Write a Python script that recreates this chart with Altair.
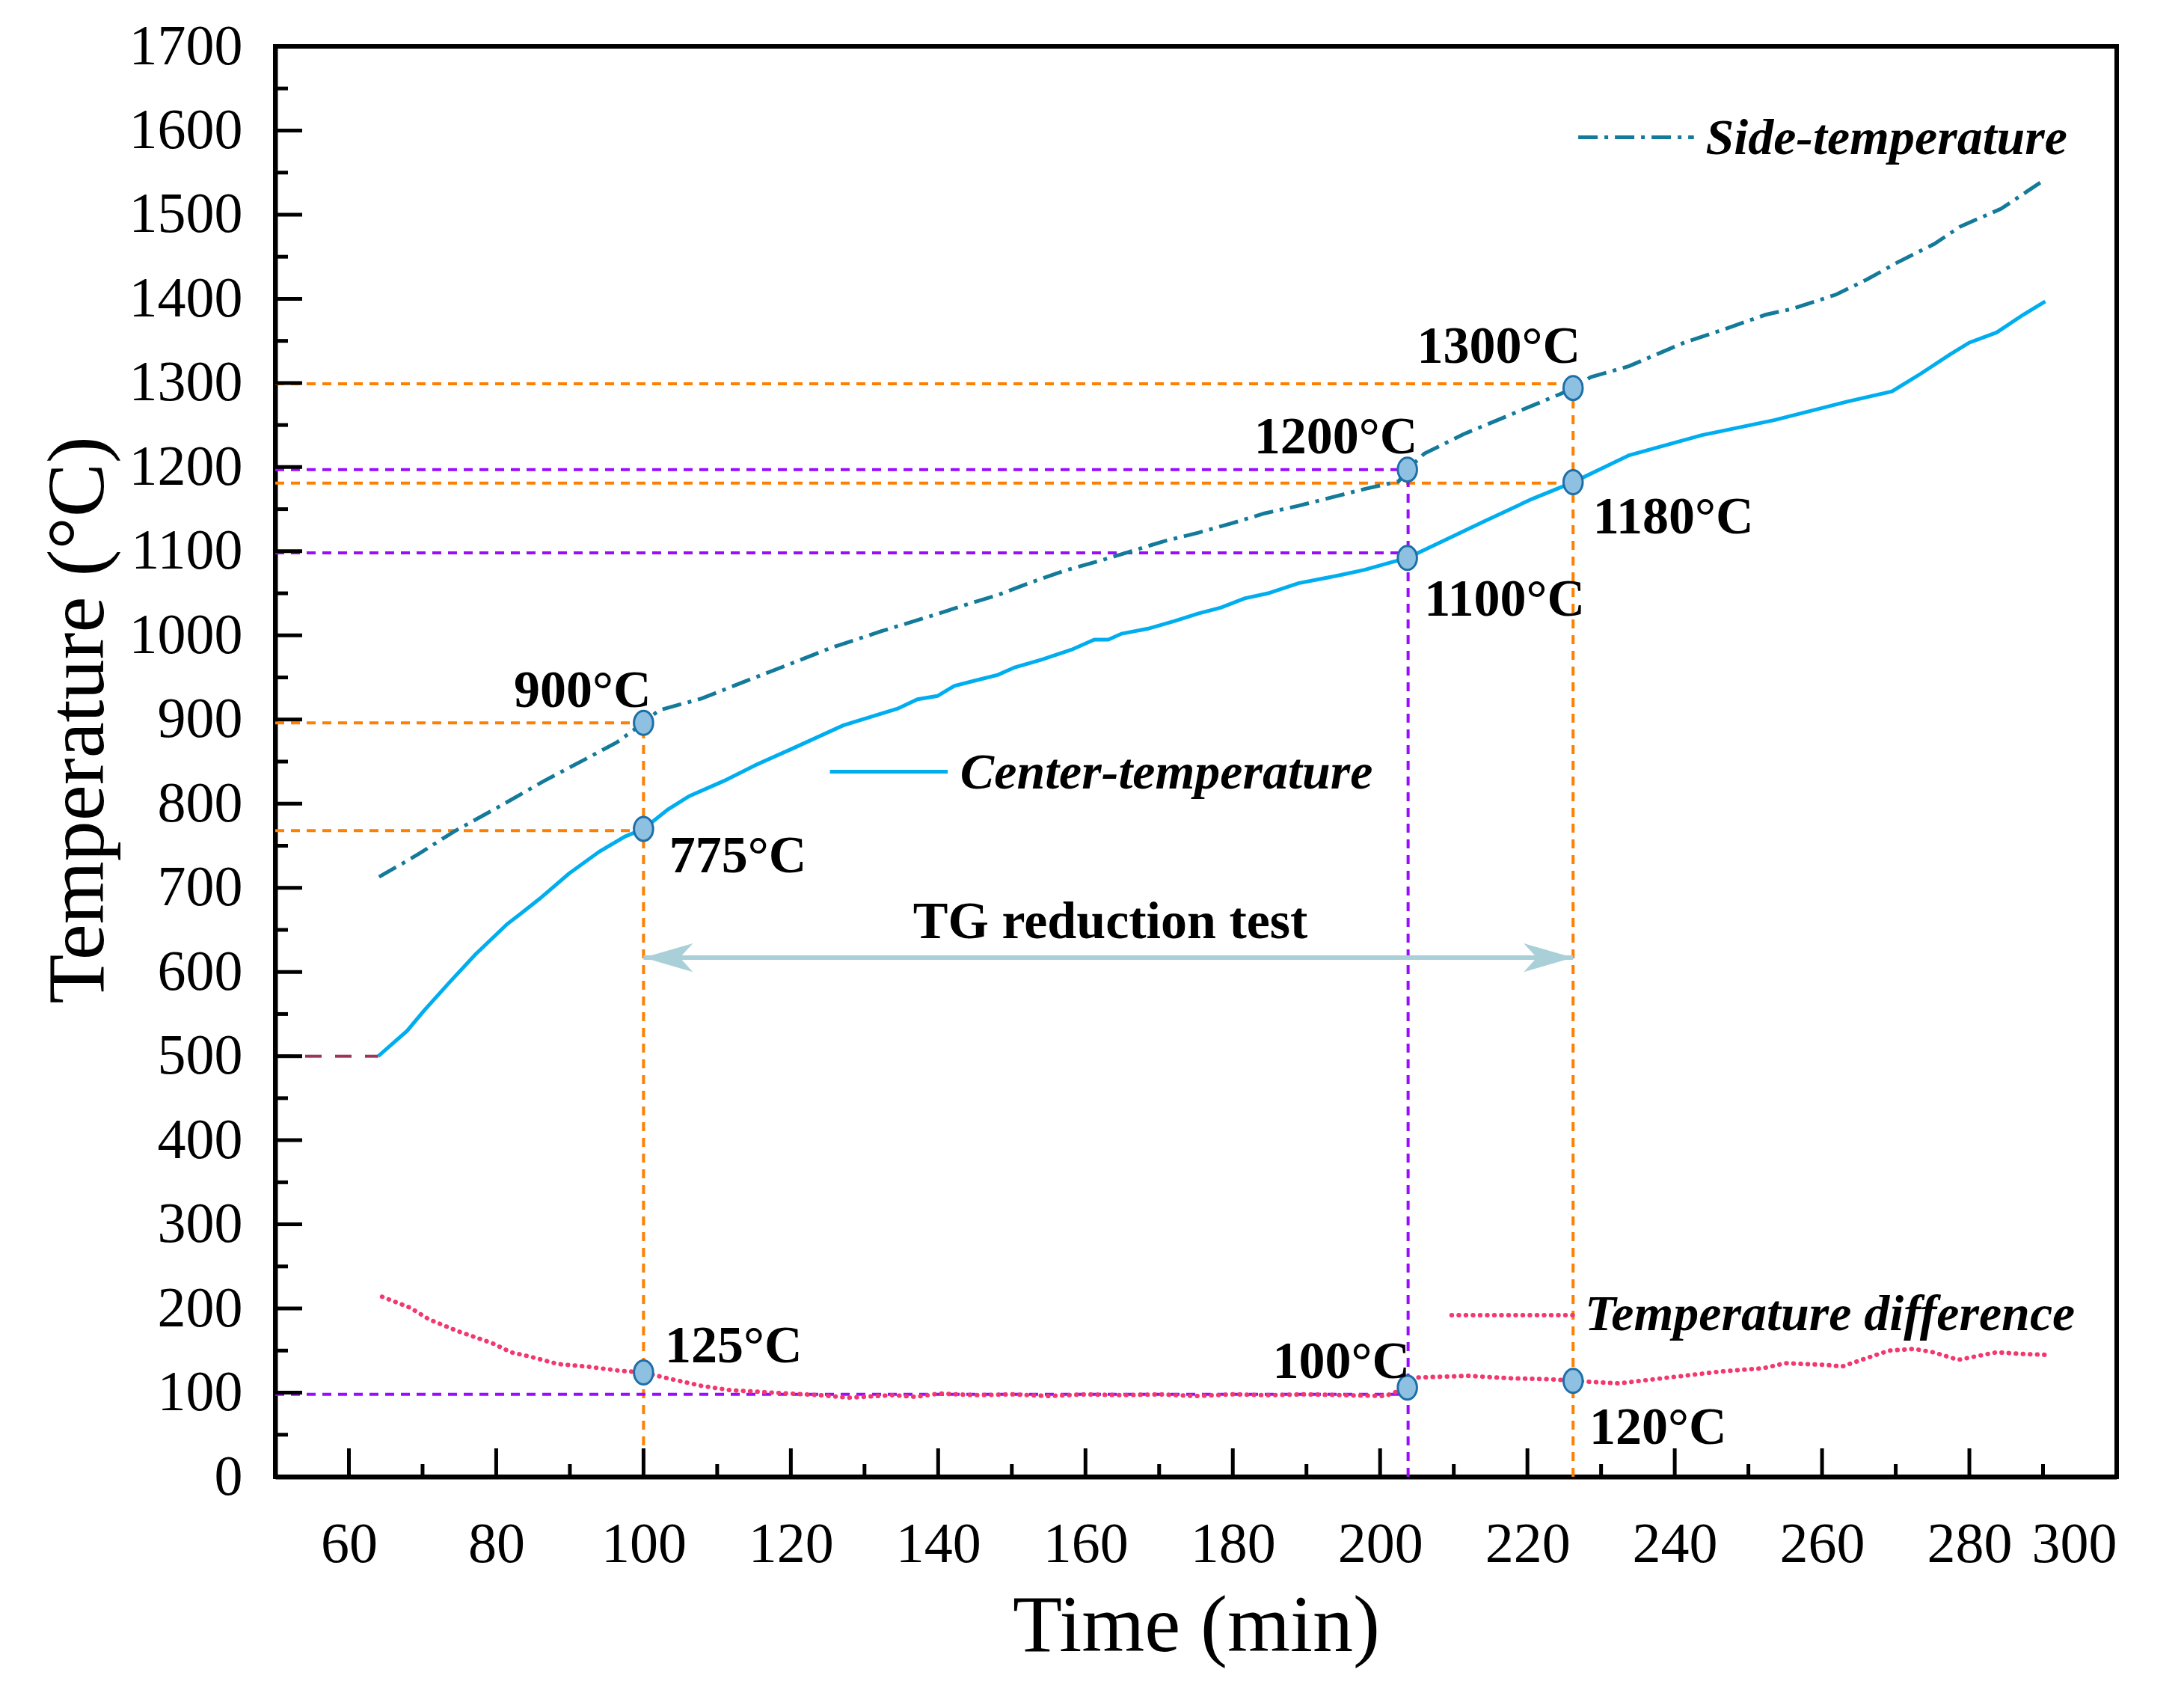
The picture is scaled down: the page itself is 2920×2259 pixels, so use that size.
import altair as alt
import pandas as pd

# Readings taken off the figure (time in min, temperature in °C)
center_time = [64.0, 67.9, 70.2, 73.7, 77.2, 81.5, 83.3, 85.9, 89.9, 94.0, 97.5, 100.0,
               103.3, 106.2, 110.9, 115.5, 120.1, 127.1, 134.5, 137.2, 139.9, 142.2, 144.9,
               148.1, 150.4, 154.0, 158.1, 161.2, 163.1, 164.9, 168.5, 172.1, 175.3, 178.4,
               181.6, 184.8, 188.9, 192.5, 194.8, 197.9, 201.6, 203.7, 207.3, 214.0, 220.6,
               226.2, 233.8, 243.7, 253.6, 263.5, 269.5, 273.4, 277.4, 280.0, 283.7, 287.3, 290.3]
center_temp = [500, 530, 554, 588, 621, 657, 669, 687, 717, 743, 761, 770,
               793, 809, 827, 847, 865, 893, 913, 924, 928, 940, 946,
               953, 962, 971, 983, 995, 995, 1002, 1008, 1017, 1026, 1033,
               1044, 1050, 1062, 1068, 1072, 1078, 1087, 1092, 1107, 1135, 1162,
               1182, 1214, 1238, 1256, 1278, 1290, 1311, 1334, 1348, 1360, 1381, 1397]

side_time = [64.1, 67.3, 69.6, 74.3, 80.1, 86.5, 91.7, 96.4, 100.0, 102.1, 107.9, 113.7,
             119.6, 125.4, 132.3, 139.0, 143.6, 148.1, 152.6, 157.2, 161.7, 166.2, 170.7,
             175.3, 179.8, 184.3, 188.9, 193.4, 197.9, 202.5, 203.7, 206.0, 211.3, 217.9,
             224.5, 226.2, 228.6, 233.8, 241.3, 246.8, 252.3, 255.9, 261.9, 266.1, 270.4,
             275.2, 278.8, 284.3, 287.9, 290.3]
side_temp = [713, 729, 741, 767, 795, 827, 851, 873, 896, 911, 925, 945,
             965, 985, 1005, 1023, 1036, 1048, 1063, 1077, 1088, 1100, 1112,
             1122, 1133, 1145, 1154, 1164, 1174, 1183, 1197, 1216, 1239, 1263,
             1287, 1294, 1307, 1320, 1348, 1364, 1381, 1388, 1405, 1423, 1444,
             1465, 1486, 1507, 1528, 1542]

diff_time = [64.5, 68.3, 70.9, 74.8, 79.4, 82.0, 84.5, 88.4, 92.3, 96.8, 100.0, 103.3,
             107.9, 111.7, 117.6, 124.0, 127.9, 133.8, 137.0, 140.2, 145.0, 150.0, 155.0,
             160.0, 165.0, 170.0, 175.0, 180.0, 185.0, 190.0, 195.0, 200.7, 203.7, 205.0,
             211.9, 217.8, 223.0, 226.2, 232.4, 239.2, 246.1, 252.0, 255.0, 260.6, 262.7,
             265.7, 269.1, 272.5, 275.1, 278.5, 283.7, 287.1, 290.3]
diff_temp = [214, 201, 187, 173, 159, 148, 143, 134, 131, 126, 124, 117,
             108, 103, 100, 97, 94, 97, 95, 99, 97, 98, 96,
             98, 97, 98, 96, 98, 97, 98, 97, 96, 106, 118,
             120, 117, 116, 114, 111, 118, 125, 129, 135, 133, 131,
             140, 150, 152, 148, 139, 148, 146, 145]

# holding segment before the run starts
hold_time = [50, 64.0]
hold_temp = [500, 500]

# marked points
point_time = [100.0, 100.0, 203.7, 203.7, 226.2, 226.2, 100.0, 203.7, 226.2]
point_temp = [896, 770, 1197, 1092, 1294, 1182, 124, 106, 114]

# guide lines: start/end time and temperature
orange_t1 = [50, 50, 50, 50, 100.0, 226.2]
orange_t2 = [226.2, 226.2, 100.0, 100.0, 100.0, 226.2]
orange_y1 = [1299, 1181, 896, 768, 0, 0]
orange_y2 = [1299, 1181, 896, 768, 896, 1299]
purple_t1 = [50, 50, 50, 203.8]
purple_t2 = [203.8, 203.8, 203.8, 203.8]
purple_y1 = [1197, 1098, 98, 0]
purple_y2 = [1197, 1098, 98, 1197]

# TG reduction test span
arrow_start, arrow_end, arrow_temp = 100.0, 226.2, 617

# value labels
label_text = ["900°C", "775°C", "1200°C", "1300°C", "1180°C", "1100°C",
              "125°C", "100°C", "120°C", "TG reduction test"]
label_time = [82.4, 103.5, 182.9, 205.0, 228.9, 206.0, 102.9, 185.4, 228.4, 136.6]
label_temp = [915, 718, 1216, 1324, 1121, 1023, 136, 117, 39, 640]

# series names placed inside the plot, with their line samples
key_text = ["Side-temperature", "Center-temperature", "Temperature difference"]
key_time = [244.2, 143.0, 227.8]
key_temp = [1572, 818, 174]
key_line_t1 = [226.9, 125.3, 209.7]
key_line_t2 = [242.6, 141.3, 226.5]
key_line_y = [1592, 838, 192]

x_major = list(range(60, 301, 20))
x_minor = list(range(70, 300, 20))
y_major = list(range(0, 1701, 100))
y_minor = list(range(50, 1700, 100))

W, H = 2462, 1912
FONT = "Liberation Serif"
C_CENTER = "#00AEEF"
C_SIDE = "#137A9A"
C_DIFF = "#F2386F"
C_ORANGE = "#FF8000"
C_PURPLE = "#9A0BFF"

xscale = alt.Scale(domain=[50, 300], nice=False, zero=False)
yscale = alt.Scale(domain=[0, 1700], nice=False, zero=False)
xaxis = alt.Axis(values=x_major, format="d", title="Time (min)", labelPadding=53,
                 titleY=232, titleBaseline="alphabetic")
yaxis = alt.Axis(values=y_major, format="d", title="Temperature (°C)", labelPadding=44,
                 titleX=-231, titleY=900, titleAngle=270, titleBaseline="alphabetic",
                 titleAlign="center")


def X(field):
    return alt.X(field, type="quantitative", scale=xscale, axis=xaxis)


def Y(field):
    return alt.Y(field, type="quantitative", scale=yscale, axis=yaxis)


center = pd.DataFrame({"t": center_time, "temp": center_temp})
side = pd.DataFrame({"t": side_time, "temp": side_temp})
diff = pd.DataFrame({"t": diff_time, "temp": diff_temp})
hold = pd.DataFrame({"t": hold_time, "temp": hold_temp})
points = pd.DataFrame({"t": point_time, "temp": point_temp})
orange = pd.DataFrame({"t": orange_t1, "t2": orange_t2, "temp": orange_y1, "temp2": orange_y2})
purple = pd.DataFrame({"t": purple_t1, "t2": purple_t2, "temp": purple_y1, "temp2": purple_y2})
labels = pd.DataFrame({"t": label_time, "temp": label_temp, "text": label_text})
keys = pd.DataFrame({"t": key_time, "temp": key_temp, "text": key_text})
key_lines = pd.DataFrame({"t": key_line_t1, "t2": key_line_t2, "temp": key_line_y})
arrow = pd.DataFrame({"t": [arrow_start], "t2": [arrow_end], "temp": [arrow_temp]})
arrow_heads_l = pd.DataFrame({"t": [arrow_start], "temp": [arrow_temp]})
arrow_heads_r = pd.DataFrame({"t": [arrow_end], "temp": [arrow_temp]})

# inward ticks
tick_x_major = alt.Chart(pd.DataFrame({"t": x_major})).mark_rule(
    color="black", strokeWidth=5).encode(x=X("t"), y=alt.value(H), y2=alt.value(H - 38))
tick_x_minor = alt.Chart(pd.DataFrame({"t": x_minor})).mark_rule(
    color="black", strokeWidth=5).encode(x=X("t"), y=alt.value(H), y2=alt.value(H - 17))
tick_y_major = alt.Chart(pd.DataFrame({"temp": y_major})).mark_rule(
    color="black", strokeWidth=5).encode(y=Y("temp"), x=alt.value(0), x2=alt.value(36))
tick_y_minor = alt.Chart(pd.DataFrame({"temp": y_minor})).mark_rule(
    color="black", strokeWidth=5).encode(y=Y("temp"), x=alt.value(0), x2=alt.value(17))

guide_orange = alt.Chart(orange).mark_rule(
    color=C_ORANGE, strokeWidth=4, strokeDash=[12, 9]).encode(
    x=X("t"), x2="t2", y=Y("temp"), y2="temp2")
guide_purple = alt.Chart(purple).mark_rule(
    color=C_PURPLE, strokeWidth=4, strokeDash=[12, 9]).encode(
    x=X("t"), x2="t2", y=Y("temp"), y2="temp2")

hold_line = alt.Chart(hold).mark_line(
    color="#9E3459", strokeWidth=4, strokeDash=[22, 18]).encode(x=X("t"), y=Y("temp"))

center_line = alt.Chart(center).mark_line(
    color=C_CENTER, strokeWidth=5).encode(x=X("t"), y=Y("temp"))
side_line = alt.Chart(side).mark_line(
    color=C_SIDE, strokeWidth=5, strokeDash=[26, 9, 5, 9]).encode(x=X("t"), y=Y("temp"))
diff_line = alt.Chart(diff).mark_line(
    color=C_DIFF, strokeWidth=6, strokeDash=[0.5, 9], strokeCap="round").encode(
    x=X("t"), y=Y("temp"))

# line samples next to the series names
key_side = alt.Chart(key_lines.iloc[[0]]).mark_rule(
    color=C_SIDE, strokeWidth=5, strokeDash=[26, 9, 5, 9]).encode(x=X("t"), x2="t2", y=Y("temp"))
key_center = alt.Chart(key_lines.iloc[[1]]).mark_rule(
    color=C_CENTER, strokeWidth=5).encode(x=X("t"), x2="t2", y=Y("temp"))
key_diff = alt.Chart(key_lines.iloc[[2]]).mark_rule(
    color=C_DIFF, strokeWidth=6, strokeDash=[0.5, 9], strokeCap="round").encode(
    x=X("t"), x2="t2", y=Y("temp"))

arrow_line = alt.Chart(arrow).mark_rule(color="#A9D0D8", strokeWidth=6).encode(
    x=X("t"), x2="t2", y=Y("temp"))
head_l = alt.Chart(arrow_heads_l).mark_point(
    shape="M0,0L1.9,-0.55L1.4,0L1.9,0.55Z", size=4817, filled=True,
    color="#A9D0D8", opacity=1).encode(x=X("t"), y=Y("temp"))
head_r = alt.Chart(arrow_heads_r).mark_point(
    shape="M0,0L-1.9,-0.55L-1.4,0L-1.9,0.55Z", size=4817, filled=True,
    color="#A9D0D8", opacity=1).encode(x=X("t"), y=Y("temp"))

dots = alt.Chart(points).mark_point(
    shape="M0,-1A0.8,1,0,1,1,0,1A0.8,1,0,1,1,0,-1Z", size=1024, filled=True,
    fill="#8EC0E2", stroke="#1D6FA8", strokeWidth=3, opacity=1).encode(
    x=X("t"), y=Y("temp"))

label_marks = alt.Chart(labels).mark_text(
    font=FONT, fontSize=70, fontWeight="bold", align="left", baseline="alphabetic",
    color="black").encode(x=X("t"), y=Y("temp"), text="text:N")
key_marks = alt.Chart(keys).mark_text(
    font=FONT, fontSize=68, fontWeight="bold", fontStyle="italic", align="left",
    baseline="alphabetic", color="black").encode(x=X("t"), y=Y("temp"), text="text:N")

chart = alt.layer(
    guide_orange, guide_purple, hold_line, diff_line, center_line, side_line,
    arrow_line, head_l, head_r, dots, key_side, key_center, key_diff,
    label_marks, key_marks,
    tick_x_major, tick_x_minor, tick_y_major, tick_y_minor,
).properties(
    width=W, height=H,
    autosize=alt.AutoSizeParams(type="none"),
    padding={"left": 360, "top": 54, "right": 82, "bottom": 277},
    background="white",
).configure_view(
    stroke="black", strokeWidth=6
).configure_axis(
    grid=False, ticks=False, domain=True, domainColor="black", domainWidth=6,
    labelFont=FONT, labelFontSize=76, labelColor="black",
    titleFont=FONT, titleFontSize=108, titleFontWeight="normal", titleColor="black",
)

chart.save("out.html", embed_options={"renderer": "svg", "actions": False})
